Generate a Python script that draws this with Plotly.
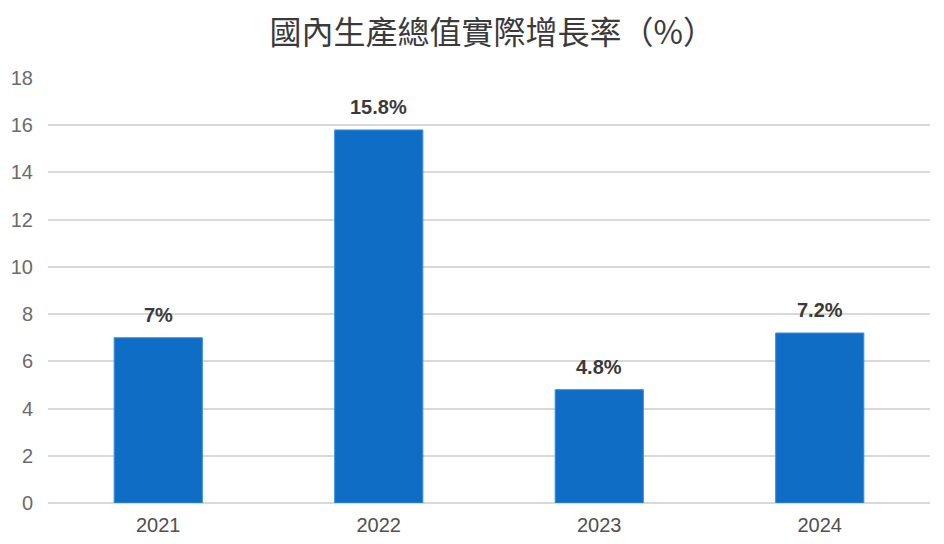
import plotly.graph_objects as go

years = ["2021", "2022", "2023", "2024"]
growth = [7, 15.8, 4.8, 7.2]
labels = ["7%", "15.8%", "4.8%", "7.2%"]

fig = go.Figure()
fig.add_trace(go.Bar(
    x=years, y=growth,
    marker=dict(color="#106DC6", line=dict(color="#3A8FE0", width=1)),
    width=0.4,
))

# value labels above the bars (x given as category index)
for i, (val, lab) in enumerate(zip(growth, labels)):
    fig.add_annotation(
        x=i, y=val, text=lab, showarrow=False,
        yanchor="bottom", yshift=10,
        font=dict(family="Arial, Liberation Sans", size=20, color="#3A3A3A", weight="bold"),
    )

# page body adds an 8px offset, so margins are trimmed to compensate
fig.update_layout(
    width=944, height=544,
    paper_bgcolor="white", plot_bgcolor="white",
    margin=dict(l=40, r=22, t=70, b=49),
    showlegend=False,
    title=dict(
        text="國內生產總值實際增長率（%）",
        x=0.513, xanchor="center", y=1 - 25 / 544, yanchor="middle",
        font=dict(family="Noto Sans CJK TC", size=32, color="#3A3A3A"),
    ),
    font=dict(family="Arial, Liberation Sans"),
)
fig.update_yaxes(
    range=[0, 18], dtick=2, showgrid=True, gridcolor="#D9D9D9", gridwidth=2,
    zeroline=True, zerolinecolor="#D9D9D9", zerolinewidth=2,
    tickfont=dict(size=20, color="#6B6B6B"), ticklabelstandoff=14,
    automargin=False,
)
fig.update_xaxes(
    type="category", range=[-0.5, len(years) - 0.5],
    showgrid=False, showline=False,
    tickfont=dict(size=20, color="#505050"), ticklabelstandoff=8,
    automargin=False,
)

fig.write_html("out.html")
